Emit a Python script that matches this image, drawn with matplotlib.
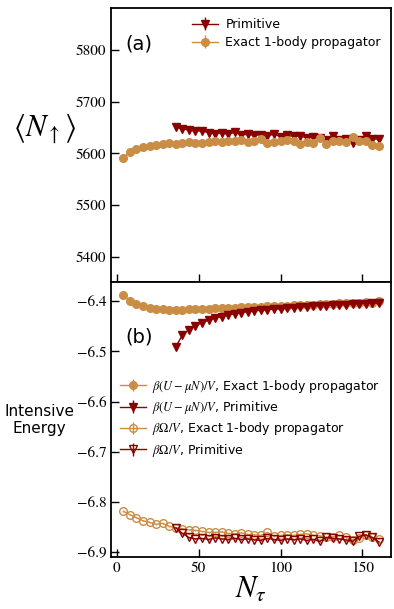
import numpy as np
import matplotlib
matplotlib.use("Agg")
import matplotlib.pyplot as plt

plt.rcParams['mathtext.fontset'] = 'stix'

# N_tau values
nt_exact = [4, 8, 12, 16, 20, 24, 28, 32, 36, 40, 44, 48, 52, 56, 60, 64, 68, 72, 76, 80,
            84, 88, 92, 96, 100, 104, 108, 112, 116, 120, 124, 128, 132, 136, 140, 144,
            148, 152, 156, 160]
nt_prim = [36, 40, 44, 48, 52, 56, 60, 64, 68, 72, 76, 80, 84, 88, 92, 96, 100, 104, 108,
           112, 116, 120, 124, 128, 132, 136, 140, 144, 148, 152, 156, 160]

# (a) <N_up>
n_exact = [5592, 5603, 5608, 5613, 5615, 5617, 5619, 5620, 5618, 5620, 5622, 5621, 5620,
           5623, 5624, 5622, 5624, 5625, 5627, 5623, 5624, 5628, 5620, 5623, 5625, 5626,
           5624, 5619, 5622, 5620, 5629, 5618, 5624, 5625, 5622, 5632, 5624, 5625, 5617, 5615]
n_prim = [5651, 5648, 5645, 5643, 5644, 5640, 5638, 5640, 5637, 5641, 5636, 5637, 5635,
          5636, 5633, 5638, 5632, 5635, 5633, 5634, 5630, 5632, 5630, 5626, 5633, 5627,
          5628, 5620, 5627, 5633, 5628, 5628]

# (b) intensive energies
u_exact = [-6.388, -6.400, -6.406, -6.410, -6.413, -6.415, -6.416, -6.417, -6.417, -6.417,
           -6.416, -6.416, -6.415, -6.415, -6.414, -6.414, -6.413, -6.413, -6.412, -6.412,
           -6.411, -6.411, -6.410, -6.410, -6.409, -6.409, -6.408, -6.408, -6.407, -6.407,
           -6.406, -6.405, -6.405, -6.404, -6.404, -6.403, -6.403, -6.402, -6.403, -6.400]
u_prim = [-6.491, -6.468, -6.457, -6.449, -6.443, -6.438, -6.434, -6.431, -6.428, -6.425,
          -6.423, -6.421, -6.420, -6.418, -6.417, -6.416, -6.415, -6.414, -6.413, -6.412,
          -6.411, -6.410, -6.409, -6.409, -6.408, -6.407, -6.407, -6.406, -6.405, -6.405,
          -6.404, -6.404]
om_exact = [-6.818, -6.825, -6.831, -6.837, -6.840, -6.844, -6.842, -6.848, -6.851, -6.853,
            -6.855, -6.856, -6.858, -6.860, -6.860, -6.859, -6.862, -6.863, -6.861, -6.864,
            -6.865, -6.866, -6.860, -6.868, -6.866, -6.865, -6.866, -6.864, -6.863, -6.866,
            -6.867, -6.870, -6.869, -6.866, -6.870, -6.875, -6.872, -6.866, -6.870, -6.873]
om_prim = [-6.851, -6.862, -6.870, -6.873, -6.872, -6.874, -6.871, -6.873, -6.874, -6.872,
           -6.874, -6.873, -6.875, -6.876, -6.872, -6.874, -6.876, -6.873, -6.875, -6.873,
           -6.876, -6.874, -6.878, -6.870, -6.872, -6.873, -6.875, -6.878, -6.868, -6.865,
           -6.870, -6.879]

c_exact = '#C98D45'
c_prim = '#8B0000'
ms = 5.5

fig = plt.figure(figsize=(3.94, 6.09), dpi=100)
ax1 = fig.add_axes([0.282, 0.537, 0.710, 0.450])
ax2 = fig.add_axes([0.282, 0.0854, 0.710, 0.4516], sharex=ax1)

ax1.errorbar(nt_prim, n_prim, yerr=1.5, color=c_prim, marker='v', ms=ms, lw=1,
             label='Primitive')
ax1.errorbar(nt_exact, n_exact, yerr=1.5, color=c_exact, marker='o', ms=ms, lw=1,
             label='Exact 1-body propagator')
ax1.set_ylim(5352, 5881)
ax1.set_yticks([5400, 5500, 5600, 5700, 5800])
ax1.text(0.05, 0.868, '(a)', transform=ax1.transAxes, fontsize=14, va='center')
ax1.legend(loc='upper right', frameon=False, fontsize=9, handlelength=2.1,
           borderaxespad=0.4, labelspacing=0.4, handletextpad=0.6)
ax1.set_ylabel(r'$\langle N_\uparrow\rangle$', fontsize=22, rotation=0, va='center',
               ha='center')
ax1.yaxis.set_label_coords(-0.24, 0.558)
ax1.tick_params(labelbottom=False)

ax2.errorbar(nt_exact, u_exact, yerr=0.001, color=c_exact, marker='o', ms=ms, lw=1,
             label=r'$\beta(U-\mu N)/V$, Exact 1-body propagator')
ax2.errorbar(nt_prim, u_prim, yerr=0.001, color=c_prim, marker='v', ms=ms, lw=1,
             label=r'$\beta(U-\mu N)/V$, Primitive')
ax2.errorbar(nt_exact, om_exact, yerr=0.001, color=c_exact, marker='o', ms=ms, lw=1,
             mfc='none', label=r'$\beta\Omega/V$, Exact 1-body propagator')
ax2.errorbar(nt_prim, om_prim, yerr=0.001, color=c_prim, marker='v', ms=ms, lw=1,
             mfc='none', label=r'$\beta\Omega/V$, Primitive')
ax2.set_ylim(-6.909, -6.362)
ax2.set_yticks([-6.9, -6.8, -6.7, -6.6, -6.5, -6.4])
ax2.set_xlim(-3.5, 167.4)
ax2.set_xticks([0, 50, 100, 150])
ax2.text(0.05, 0.80, '(b)', transform=ax2.transAxes, fontsize=14, va='center')
ax2.legend(loc='center left', bbox_to_anchor=(-0.01, 0.505), frameon=False,
           fontsize=9, handlelength=2.1, labelspacing=0.35, handletextpad=0.5)
ax2.set_xlabel(r'$N_\tau$', fontsize=22, labelpad=0)
fig.text(0.10, 0.31, 'Intensive\nEnergy', fontsize=11, ha='center', va='center')

for ax in (ax1, ax2):
    ax.tick_params(direction='in', length=6, width=1, labelsize=11)
    for lab in ax.get_xticklabels() + ax.get_yticklabels():
        lab.set_family('STIXGeneral')
    for s in ax.spines.values():
        s.set_linewidth(1.3)

fig.savefig('out.png', dpi=100)
